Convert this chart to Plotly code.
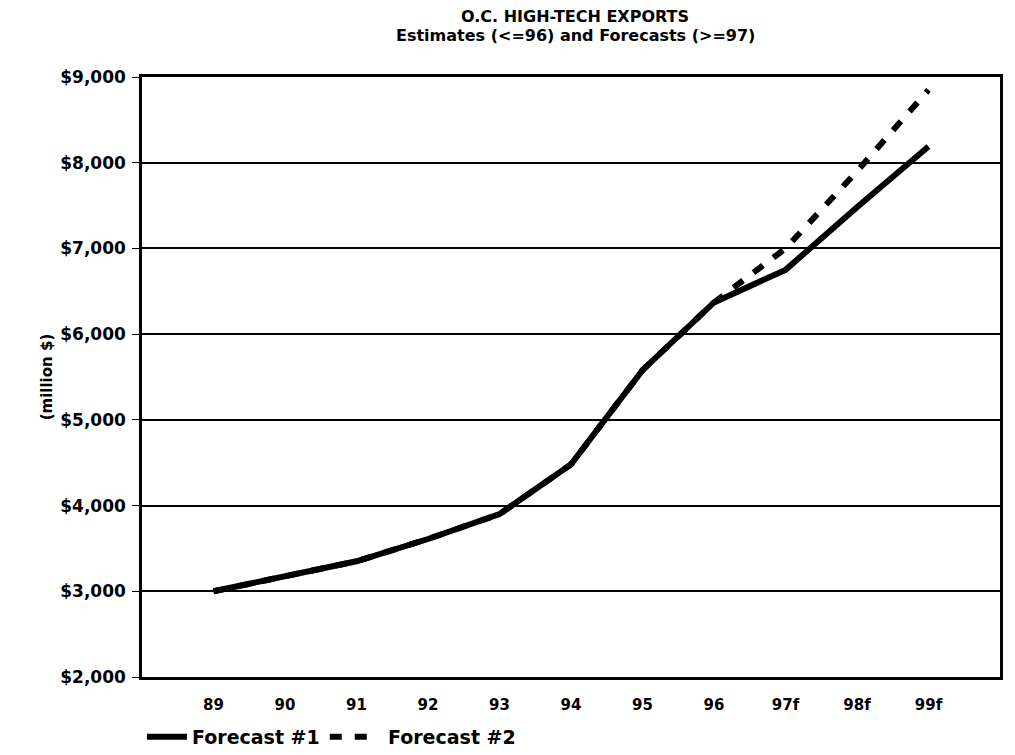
import plotly.graph_objects as go

# Orange County high-tech exports, million $
years = ["89", "90", "91", "92", "93", "94", "95", "96", "97f", "98f", "99f"]
forecast_1 = [3000, 3170, 3350, 3610, 3900, 4480, 5580, 6370, 6750, 7480, 8190]
forecast_2 = [3000, 3170, 3350, 3610, 3900, 4480, 5580, 6370, 7000, 7900, 8850]

y_ticks = [2000, 3000, 4000, 5000, 6000, 7000, 8000, 9000]

title_line_1 = "O.C. HIGH-TECH EXPORTS"
title_line_2 = "Estimates (<=96) and Forecasts (>=97)"

FONT = "DejaVu Sans"

fig = go.Figure()

# dashed forecast goes underneath so the shared history shows as one solid line
fig.add_trace(go.Scatter(
    x=list(range(len(years))), y=forecast_2, mode="lines",
    name="\u00a0\u00a0Forecast #2",
    line=dict(color="black", width=6, dash="12px,13px"),
))
fig.add_trace(go.Scatter(
    x=list(range(len(years))), y=forecast_1, mode="lines", name="Forecast #1",
    line=dict(color="black", width=6),
))

# two-line heading, placed above the plot frame
for text, shift in [(title_line_1, 61), (title_line_2, 42)]:
    fig.add_annotation(
        text=f"<b>{text}</b>", xref="paper", yref="paper",
        x=0.505, y=1, xanchor="center", yanchor="middle", yshift=shift,
        showarrow=False, font=dict(family=FONT, size=16, color="black"),
    )

fig.update_layout(
    width=1015, height=755,
    margin=dict(l=142, r=15, t=77, b=78, autoexpand=False),
    paper_bgcolor="white", plot_bgcolor="white",
    font=dict(family=FONT, color="black"),
    showlegend=True,
    legend=dict(
        orientation="h", x=0.0, xanchor="left", y=-0.1, yanchor="middle",
        traceorder="reversed",
        font=dict(family=FONT, size=19, color="black", weight="bold"),
        bgcolor="rgba(0,0,0,0)", itemwidth=40,
    ),
)

fig.update_xaxes(
    range=[-1, 11],
    tickmode="array", tickvals=list(range(len(years))), ticktext=years,
    tickfont=dict(family=FONT, size=15, color="black", weight="bold"),
    showgrid=False, zeroline=False,
    showline=True, linecolor="black", linewidth=2.5, mirror=True,
    ticks="", ticklabelstandoff=12,
)
fig.update_yaxes(
    range=[2000, 9000],
    tickmode="array", tickvals=y_ticks,
    ticktext=[f"${v:,}" for v in y_ticks],
    tickfont=dict(family=FONT, size=17, color="black", weight="bold"),
    showgrid=True, gridcolor="black", gridwidth=2,
    zeroline=False,
    showline=True, linecolor="black", linewidth=2.5, mirror=True,
    ticks="outside", ticklen=7, tickcolor="black", tickwidth=1,
    ticklabelstandoff=3,
    title=dict(text="<b>(million $)</b>", font=dict(family=FONT, size=15, color="black"), standoff=4),
)

fig.write_html("out.html")
